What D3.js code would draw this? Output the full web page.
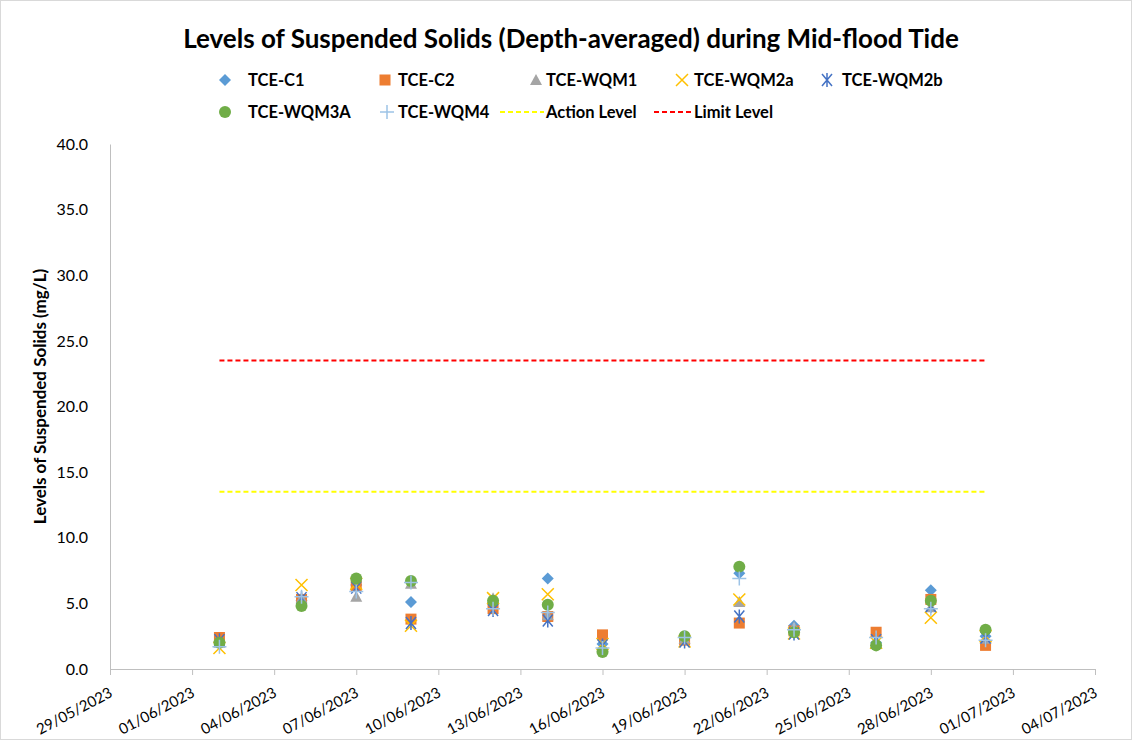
<!DOCTYPE html>
<html>
<head>
<meta charset="utf-8" />
<title>Levels of Suspended Solids</title>
<style>
  html, body { margin: 0; padding: 0; background: #fff; }
  svg text { font-family: Lato, "Open Sans", sans-serif; }
</style>
</head>
<body>
<svg width="1132" height="740"></svg>
<script src="https://d3js.org/d3.v7.min.js"></script>
<script>
// sampling dates (dd/mm/yyyy)
var dates = ["02/06/2023", "05/06/2023", "07/06/2023", "09/06/2023", "12/06/2023", "14/06/2023",
             "16/06/2023", "19/06/2023", "21/06/2023", "23/06/2023", "26/06/2023", "28/06/2023", "30/06/2023"];

var tceC1    = [2.1, 5.2, 6.4, 5.1, 5.0, 6.9, 1.9, 2.4, 7.3, 3.3, 2.0, 6.0, 2.5];
var tceC2    = [2.4, 5.3, 6.3, 3.8, 4.6, 4.0, 2.6, 2.2, 3.5, 2.9, 2.8, 5.3, 1.8];
var tceWQM1  = [2.0, 5.4, 5.5, 6.5, 5.4, 4.1, 1.7, 2.3, 5.1, 3.2, 1.9, 4.7, 2.3];
var tceWQM2a = [1.6, 6.4, 6.5, 3.3, 5.4, 5.7, 1.9, 2.1, 5.3, 2.7, 2.0, 3.9, 2.5];
var tceWQM2b = [2.2, 5.4, 6.2, 3.5, 4.5, 3.7, 1.8, 2.1, 4.0, 2.7, 2.2, 4.8, 2.4];
var tceWQM3A = [2.0, 4.8, 6.9, 6.7, 5.2, 4.9, 1.3, 2.5, 7.8, 2.8, 1.8, 5.2, 3.0];
var tceWQM4  = [1.7, 5.5, 5.9, 6.6, 4.6, 4.3, 1.6, 2.4, 6.9, 3.0, 2.4, 4.6, 2.2];

var actionLevel = 13.5;
var limitLevel = 23.5;
var levelDates = ["02/06/2023", "30/06/2023"];

var xTicks = ["29/05/2023", "01/06/2023", "04/06/2023", "07/06/2023", "10/06/2023", "13/06/2023", "16/06/2023",
              "19/06/2023", "22/06/2023", "25/06/2023", "28/06/2023", "01/07/2023", "04/07/2023"];
var yTicks = [0, 5, 10, 15, 20, 25, 30, 35, 40];

var parse = d3.timeParse("%d/%m/%Y");
var fmt = d3.timeFormat("%d/%m/%Y");

var series = [
  { name: "TCE-C1",    values: tceC1,    color: "#5B9BD5", shape: "diamond" },
  { name: "TCE-C2",    values: tceC2,    color: "#ED7D31", shape: "square" },
  { name: "TCE-WQM1",  values: tceWQM1,  color: "#A5A5A5", shape: "triangle" },
  { name: "TCE-WQM2a", values: tceWQM2a, color: "#FFC000", shape: "x" },
  { name: "TCE-WQM2b", values: tceWQM2b, color: "#4472C4", shape: "star" },
  { name: "TCE-WQM3A", values: tceWQM3A, color: "#70AD47", shape: "circle" },
  { name: "TCE-WQM4",  values: tceWQM4,  color: "#9DC3E6", shape: "plus" }
];
var levels = [
  { name: "Action Level", value: actionLevel, color: "#FFFF00" },
  { name: "Limit Level",  value: limitLevel,  color: "#FF0000" }
];

var svg = d3.select("svg");
var margin = { left: 110, right: 1095, top: 144, bottom: 669 };

svg.append("rect")
  .attr("x", 0.5).attr("y", 0.5).attr("width", 1131).attr("height", 739)
  .attr("fill", "#fff").attr("stroke", "#d9d9d9");

var x = d3.scaleTime()
  .domain([parse(xTicks[0]), parse(xTicks[xTicks.length - 1])])
  .range([margin.left, margin.right]);
var y = d3.scaleLinear().domain([0, 40]).range([margin.bottom, margin.top]);

// title
svg.append("text")
  .attr("x", 571).attr("y", 48)
  .attr("text-anchor", "middle")
  .attr("font-size", 26).attr("font-weight", "bold")
  .text("Levels of Suspended Solids (Depth-averaged) during Mid-flood Tide");

// axes
var yAxis = svg.append("g")
  .attr("transform", "translate(" + margin.left + ",0)")
  .call(d3.axisLeft(y).tickValues(yTicks).tickSize(0).tickPadding(22).tickFormat(d3.format(".1f")));
yAxis.select(".domain").attr("stroke", "#bfbfbf");
yAxis.selectAll("text").attr("font-size", 16).attr("fill", "#000");

var xAxis = svg.append("g")
  .attr("transform", "translate(0," + margin.bottom + ")")
  .call(d3.axisBottom(x).tickValues(xTicks.map(parse)).tickSize(6).tickFormat(fmt));
xAxis.select(".domain").attr("stroke", "#bfbfbf");
xAxis.selectAll("line").attr("stroke", "#bfbfbf");
xAxis.selectAll("text")
  .attr("font-size", 15).attr("fill", "#000")
  .attr("text-anchor", "end")
  .attr("dy", null).attr("y", 0)
  .attr("transform", "translate(3,27) rotate(-28)");

svg.append("text")
  .attr("transform", "translate(46," + ((margin.top + margin.bottom) / 2 - 10) + ") rotate(-90)")
  .attr("text-anchor", "middle")
  .attr("font-size", 17).attr("font-weight", "bold")
  .text("Levels of Suspended Solids (mg/L)");

// level lines
levels.forEach(function (l) {
  svg.append("line")
    .attr("x1", x(parse(levelDates[0]))).attr("x2", x(parse(levelDates[1])))
    .attr("y1", y(l.value)).attr("y2", y(l.value))
    .attr("stroke", l.color).attr("stroke-width", 2).attr("stroke-dasharray", "5,3");
});

function marker(g, shape, color) {
  if (shape === "diamond") {
    g.append("path").attr("d", "M0,-6L6,0L0,6L-6,0Z").attr("fill", color);
  } else if (shape === "square") {
    g.append("rect").attr("x", -5.5).attr("y", -5.5).attr("width", 11).attr("height", 11).attr("fill", color);
  } else if (shape === "triangle") {
    g.append("path").attr("d", "M0,-6L6,5L-6,5Z").attr("fill", color);
  } else if (shape === "circle") {
    g.append("circle").attr("r", 6).attr("fill", color);
  } else if (shape === "x") {
    g.append("path").attr("d", "M-6,-6L6,6M-6,6L6,-6").attr("stroke", color).attr("stroke-width", 1.5);
  } else if (shape === "star") {
    g.append("path").attr("d", "M-5,-6L5,6M-5,6L5,-6M0,-7L0,7").attr("stroke", color).attr("stroke-width", 1.5);
  } else if (shape === "plus") {
    g.append("path").attr("d", "M-7,0L7,0M0,-7L0,7").attr("stroke", color).attr("stroke-width", 1.5);
  }
}

// points
series.forEach(function (s) {
  var g = svg.append("g");
  s.values.forEach(function (v, i) {
    var p = g.append("g").attr("transform", "translate(" + x(parse(dates[i])) + "," + y(v) + ")");
    marker(p, s.shape, s.color);
  });
});

// legend
var legendItems = [
  { s: series[0], mx: 225, tx: 248, ty: 80 },
  { s: series[1], mx: 385, tx: 398, ty: 80 },
  { s: series[2], mx: 536, tx: 546, ty: 80 },
  { s: series[3], mx: 682, tx: 694, ty: 80 },
  { s: series[4], mx: 827, tx: 842, ty: 80 },
  { s: series[5], mx: 225, tx: 248, ty: 112 },
  { s: series[6], mx: 387, tx: 398, ty: 112 }
];
legendItems.forEach(function (d) {
  var p = svg.append("g").attr("transform", "translate(" + d.mx + "," + d.ty + ")");
  marker(p, d.s.shape, d.s.color);
  svg.append("text").attr("x", d.tx).attr("y", d.ty + 6)
    .attr("font-size", 16.5).attr("font-weight", "bold").text(d.s.name);
});
[{ l: levels[0], x1: 500, tx: 546 }, { l: levels[1], x1: 654, tx: 694 }].forEach(function (d) {
  svg.append("line").attr("x1", d.x1).attr("x2", d.tx - 2).attr("y1", 112).attr("y2", 112)
    .attr("stroke", d.l.color).attr("stroke-width", 2).attr("stroke-dasharray", "5,3");
  svg.append("text").attr("x", d.tx).attr("y", 118)
    .attr("font-size", 16.5).attr("font-weight", "bold").text(d.l.name);
});
</script>
</body>
</html>
